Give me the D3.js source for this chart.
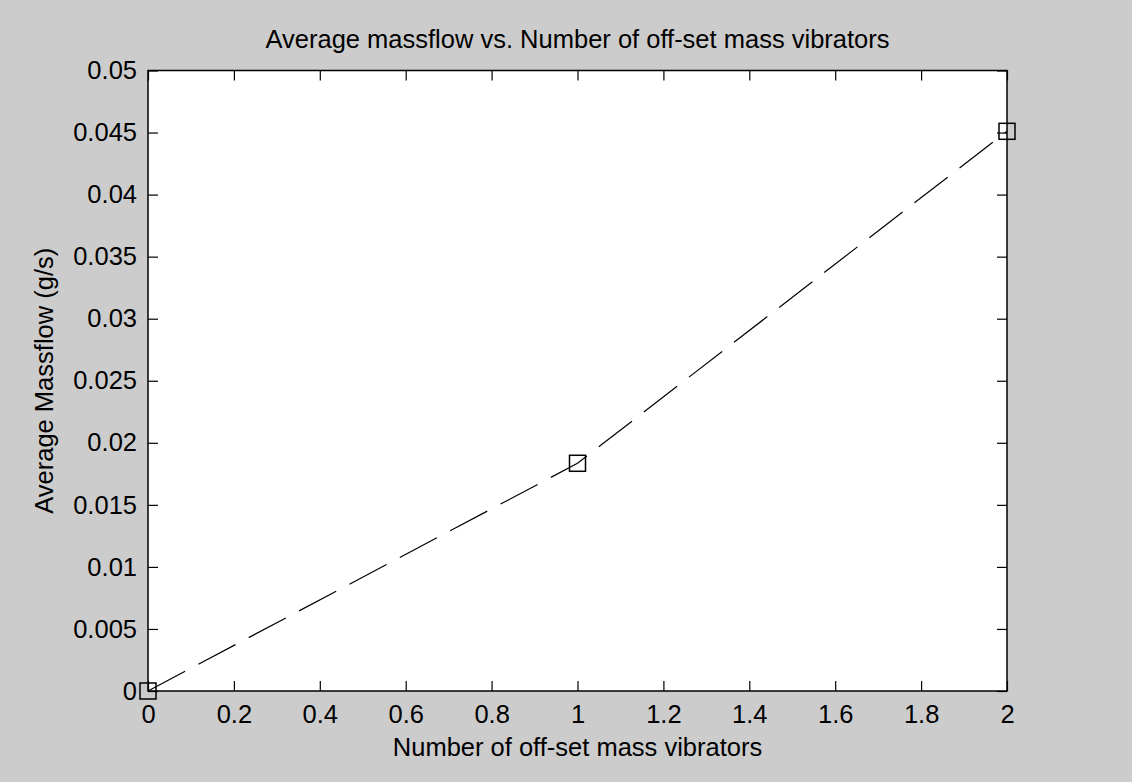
<!DOCTYPE html>
<html>
<head>
<meta charset="utf-8">
<script src="https://cdn.jsdelivr.net/npm/d3@7"></script>
<style>
  html, body { margin: 0; padding: 0; background: #cccccc; }
  svg { display: block; }
  text { font-family: "Liberation Sans", Arial, sans-serif; fill: #000; }
</style>
</head>
<body>
<svg id="chart" width="1132" height="782"></svg>
<script>
// ---- data ----
const vibrators = [0, 1, 2];
const massflow = [0, 0.01835, 0.0451];
const xTicks = [0, 0.2, 0.4, 0.6, 0.8, 1, 1.2, 1.4, 1.6, 1.8, 2];
const xTickLabels = ["0", "0.2", "0.4", "0.6", "0.8", "1", "1.2", "1.4", "1.6", "1.8", "2"];
const yTicks = [0, 0.005, 0.01, 0.015, 0.02, 0.025, 0.03, 0.035, 0.04, 0.045, 0.05];
const yTickLabels = ["0", "0.005", "0.01", "0.015", "0.02", "0.025", "0.03", "0.035", "0.04", "0.045", "0.05"];
const titleText = "Average massflow vs. Number of off-set mass vibrators";
const xLabelText = "Number of off-set mass vibrators";
const yLabelText = "Average Massflow (g/s)";

// ---- layout ----
const W = 1132, H = 782;
const L = 148, R = 1007, T = 70.5, B = 691;
const FS = 25.5;

const svg = d3.select("#chart");
svg.append("rect").attr("width", W).attr("height", H).attr("fill", "#cccccc");
svg.append("rect").attr("x", L).attr("y", T).attr("width", R - L).attr("height", B - T).attr("fill", "#ffffff");

const x = d3.scaleLinear().domain([0, 2]).range([L, R]);
const y = d3.scaleLinear().domain([0, 0.05]).range([B, T]);

function styleAxis(g) {
  g.select(".domain").remove();
  g.selectAll(".tick line").attr("stroke", "#000").attr("stroke-width", 1.2);
  g.selectAll(".tick text").style("font-size", FS + "px").attr("fill", "#000");
}

// bottom
svg.append("g").attr("transform", `translate(0,${B})`)
  .call(d3.axisBottom(x).tickValues(xTicks).tickFormat((d, i) => xTickLabels[i]).tickSize(-10).tickPadding(14))
  .call(styleAxis);
// top
svg.append("g").attr("transform", `translate(0,${T})`)
  .call(d3.axisTop(x).tickValues(xTicks).tickFormat("").tickSize(-10))
  .call(styleAxis);
// left
svg.append("g").attr("transform", `translate(${L},0)`)
  .call(d3.axisLeft(y).tickValues(yTicks).tickFormat((d, i) => yTickLabels[i]).tickSize(-10).tickPadding(11))
  .call(styleAxis);
// right
svg.append("g").attr("transform", `translate(${R},0)`)
  .call(d3.axisRight(y).tickValues(yTicks).tickFormat("").tickSize(-10))
  .call(styleAxis);

// box
svg.append("rect").attr("x", L).attr("y", T).attr("width", R - L).attr("height", B - T)
  .attr("fill", "none").attr("stroke", "#000").attr("stroke-width", 1.5);

// line
const pts = vibrators.map((v, i) => [v, massflow[i]]);
svg.append("path").datum(pts)
  .attr("d", d3.line().x(d => x(d[0])).y(d => y(d[1])))
  .attr("fill", "none").attr("stroke", "#000").attr("stroke-width", 1.2)
  .attr("stroke-dasharray", "42,15");

// markers
const S = 16;
svg.append("g").selectAll("rect").data(pts).join("rect")
  .attr("x", d => x(d[0]) - S / 2).attr("y", d => y(d[1]) - S / 2)
  .attr("width", S).attr("height", S)
  .attr("fill", "none").attr("stroke", "#000").attr("stroke-width", 1.5);

// labels
svg.append("text").attr("x", (L + R) / 2).attr("y", 48).attr("text-anchor", "middle")
  .style("font-size", FS + "px").text(titleText);
svg.append("text").attr("x", (L + R) / 2).attr("y", 756).attr("text-anchor", "middle")
  .style("font-size", FS + "px").text(xLabelText);
svg.append("text").attr("transform", `translate(53,${(T + B) / 2}) rotate(-90)`).attr("text-anchor", "middle")
  .style("font-size", FS + "px").text(yLabelText);
</script>
</body>
</html>
